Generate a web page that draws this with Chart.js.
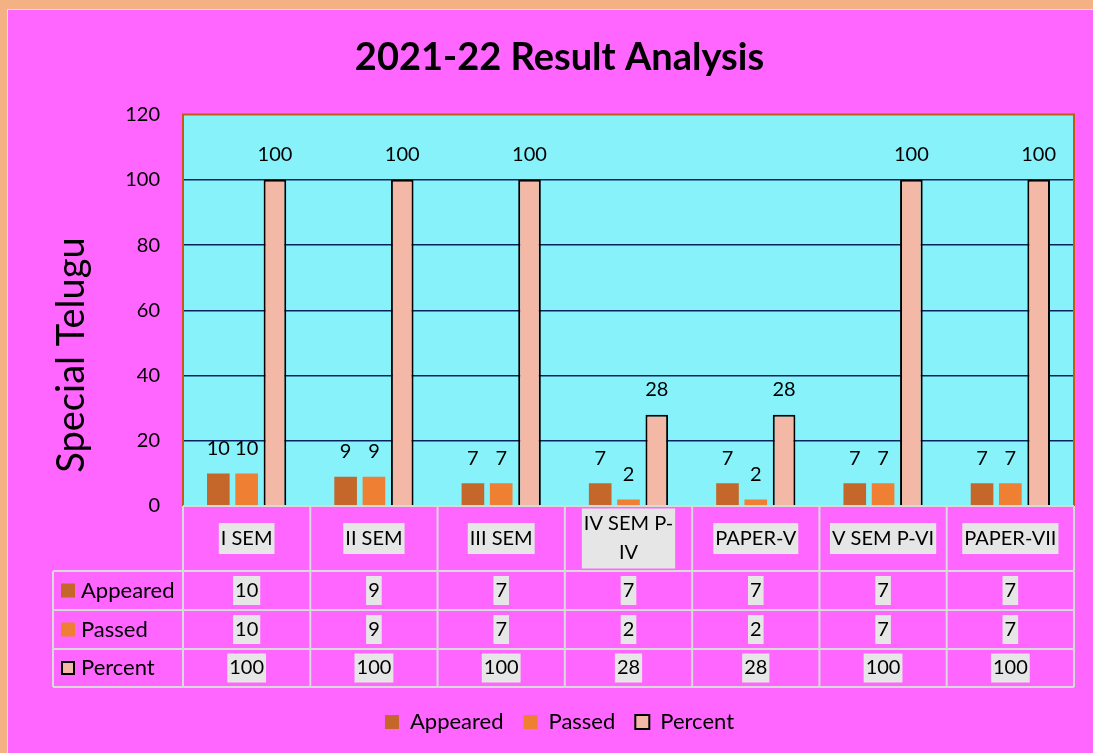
<!DOCTYPE html>
<html>
<head>
<meta charset="utf-8">
<script src="https://cdn.jsdelivr.net/npm/chart.js@4.4.0/dist/chart.umd.min.js"></script>
<style>
  html, body { margin: 0; padding: 0; background: #F4B183; }
  #wrap { width: 1093px; height: 753px; }
</style>
</head>
<body>
<div id="wrap"><canvas id="resultChart"></canvas></div>
<script>
// chart data
const categories = ['I SEM', 'II SEM', 'III SEM', ['IV SEM P-', 'IV'], 'PAPER-V', 'V SEM P-VI', 'PAPER-VII'];
const appeared = [10, 9, 7, 7, 7, 7, 7];
const passed = [10, 9, 7, 2, 2, 7, 7];
const percent = [100, 100, 100, 28, 28, 100, 100];
const yTicks = [0, 20, 40, 60, 80, 100, 120];
const seriesNames = ['Appeared', 'Passed', 'Percent'];
const chartTitle = '2021-22 Result Analysis';
const yTitle = 'Special Telugu';

const FONT = 'Lato, "Noto Sans", sans-serif';
const colors = ['#C5672B', '#EE7F33', '#F4B9A6'];

// magenta sheet, peach frame, cyan plot area
const backgroundPlugin = {
    id: 'sheetBackground',
    beforeDraw(chart) {
        const { ctx, width, height, chartArea: a } = chart;
        ctx.save();
        ctx.fillStyle = '#F4B183';
        ctx.fillRect(0, 0, width, height);
        ctx.fillStyle = '#E8E0E8';
        ctx.fillRect(7, 9, width - 7, height - 9);
        ctx.fillStyle = '#FF66FF';
        ctx.fillRect(8, 10, width - 8, height - 10);
        ctx.fillStyle = '#88F2FA';
        ctx.fillRect(a.left, a.top, a.right - a.left, a.bottom - a.top);
        ctx.restore();
    },
    afterDatasetsDraw(chart) {
        const { ctx, chartArea: a } = chart;
        ctx.save();
        ctx.strokeStyle = '#C55A11';
        ctx.lineWidth = 2;
        ctx.beginPath();
        ctx.moveTo(a.left, a.bottom);
        ctx.lineTo(a.left, a.top);
        ctx.lineTo(a.right, a.top);
        ctx.lineTo(a.right, a.bottom);
        ctx.stroke();

        // y axis title
        ctx.fillStyle = '#000';
        ctx.font = '38px ' + FONT;
        ctx.textAlign = 'center';
        ctx.textBaseline = 'middle';
        ctx.translate(72, 355);
        ctx.rotate(-Math.PI / 2);
        ctx.fillText(yTitle, 0, 0);
        ctx.restore();
    }
};

// value labels above the bars
const valueLabelPlugin = {
    id: 'valueLabels',
    afterDatasetsDraw(chart) {
        const ctx = chart.ctx;
        ctx.save();
        ctx.font = '20px ' + FONT;
        ctx.fillStyle = '#000';
        ctx.textAlign = 'center';
        ctx.textBaseline = 'middle';
        chart.data.datasets.forEach((ds, i) => {
            chart.getDatasetMeta(i).data.forEach((bar, j) => {
                ctx.fillText(String(ds.data[j]), bar.x, bar.y - 25);
            });
        });
        ctx.restore();
    }
};

function boxedText(ctx, lines, cx, cy, lineH) {
    const w = Math.max(...lines.map(l => ctx.measureText(l).width));
    const h = lines.length * lineH;
    ctx.fillStyle = '#E7E6E6';
    ctx.fillRect(cx - w / 2 - 2, cy - h / 2 - 1, w + 4, h + 2);
    ctx.fillStyle = '#000';
    lines.forEach((l, i) => ctx.fillText(l, cx, cy - h / 2 + lineH * (i + 0.5)));
}

// data table under the plot
const tablePlugin = {
    id: 'dataTable',
    afterDraw(chart) {
        const { ctx, chartArea: a } = chart;
        const xs = chart.scales.x;
        const colW = (a.right - a.left) / categories.length;
        const headTop = a.bottom;
        const headBot = a.bottom + 65;
        const rowH = [39, 39, 38];
        const tableLeft = 53;
        const ys = [headBot];
        rowH.forEach(h => ys.push(ys[ys.length - 1] + h));
        const tableBot = ys[ys.length - 1];

        ctx.save();
        ctx.strokeStyle = '#D9D9D9';
        ctx.lineWidth = 2;
        ctx.beginPath();
        ctx.moveTo(a.left, headTop);
        ctx.lineTo(a.right, headTop);
        ys.forEach(y => { ctx.moveTo(tableLeft, y); ctx.lineTo(a.right, y); });
        for (let k = 0; k <= categories.length; k++) {
            const x = a.left + k * colW;
            ctx.moveTo(x, headTop);
            ctx.lineTo(x, tableBot);
        }
        ctx.moveTo(tableLeft, headBot);
        ctx.lineTo(tableLeft, tableBot);
        ctx.stroke();

        ctx.font = '20px ' + FONT;
        ctx.textAlign = 'center';
        ctx.textBaseline = 'middle';
        categories.forEach((c, j) => {
            const lines = Array.isArray(c) ? c : [c];
            boxedText(ctx, lines, xs.getPixelForValue(j), (headTop + headBot) / 2, 29);
        });

        const rows = [appeared, passed, percent];
        rows.forEach((vals, r) => {
            const cy = (ys[r] + ys[r + 1]) / 2;
            ctx.font = '20px ' + FONT;
            ctx.textAlign = 'center';
            vals.forEach((v, j) => {
                boxedText(ctx, [String(v)], xs.getPixelForValue(j), cy, 27);
            });
            // row key + name
            ctx.fillStyle = colors[r];
            ctx.fillRect(61, cy - 7, 14, 14);
            if (r === 2) {
                ctx.strokeStyle = '#000';
                ctx.lineWidth = 2;
                ctx.strokeRect(62, cy - 6, 12, 12);
            }
            ctx.fillStyle = '#000';
            ctx.font = '22px ' + FONT;
            ctx.textAlign = 'left';
            ctx.fillText(seriesNames[r], 81, cy);
        });
        ctx.restore();
    }
};

const ctx = document.getElementById('resultChart').getContext('2d');
new Chart(ctx, {
    type: 'bar',
    data: {
        labels: categories,
        datasets: [
            { label: seriesNames[0], data: appeared, backgroundColor: colors[0], borderWidth: 0 },
            { label: seriesNames[1], data: passed, backgroundColor: colors[1], borderWidth: 0 },
            { label: seriesNames[2], data: percent, backgroundColor: colors[2], borderColor: '#000', borderWidth: 2 }
        ]
    },
    options: {
        responsive: true,
        maintainAspectRatio: false,
        animation: false,
        datasets: {
            bar: { categoryPercentage: 0.667, barPercentage: 0.8 }
        },
        layout: { padding: { left: 45, right: 19, top: 0, bottom: 10 } },
        scales: {
            x: {
                ticks: { display: false },
                grid: { display: false },
                border: { display: false },
                afterFit: scale => { scale.height = 185; }
            },
            y: {
                min: 0,
                max: 120,
                afterBuildTicks: scale => { scale.ticks = yTicks.map(v => ({ value: v })); },
                afterFit: scale => { scale.width = 138; },
                ticks: {
                    color: '#000',
                    padding: 23,
                    font: { family: FONT, size: 20 }
                },
                grid: {
                    drawTicks: false,
                    lineWidth: 1.5,
                    color: c => (c.tick.value > 0 && c.tick.value < 120) ? '#06225E' : 'rgba(0,0,0,0)'
                },
                border: { display: false }
            }
        },
        plugins: {
            title: {
                display: true,
                text: chartTitle,
                color: '#000',
                font: { family: FONT, size: 38, weight: 'bold' },
                padding: { top: 35, bottom: 34 }
            },
            legend: {
                position: 'bottom',
                labels: {
                    color: '#000',
                    font: { family: FONT, size: 22 },
                    boxWidth: 14,
                    boxHeight: 14,
                    padding: 20
                }
            },
            tooltip: { enabled: false }
        }
    },
    plugins: [backgroundPlugin, valueLabelPlugin, tablePlugin]
});
</script>
</body>
</html>
